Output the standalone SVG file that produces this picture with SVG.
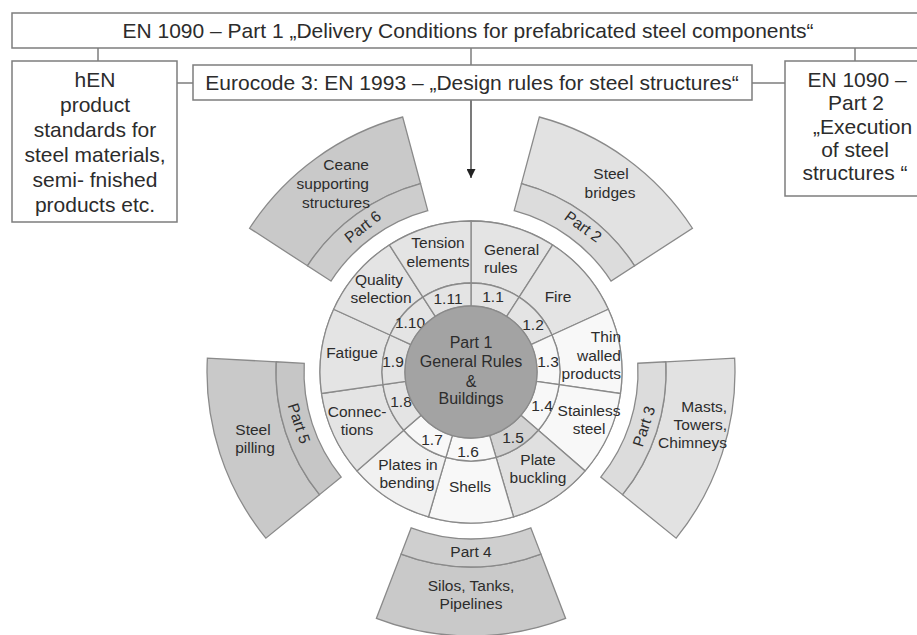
<svg xmlns="http://www.w3.org/2000/svg" width="917" height="635" viewBox="0 0 917 635">
<style>
.box{fill:#fff;stroke:#7d7d7d;stroke-width:1.5}
.ln{fill:none;stroke:#7d7d7d;stroke-width:1.5}
.t{font-family:"Liberation Sans",Arial,sans-serif;fill:#2c2c2c}
.big{font-size:21px}
.sm{font-size:15.5px}
.c{text-anchor:middle}
.e{text-anchor:end}
.seg{stroke:#8a8a8a;stroke-width:1.3}
.g1{fill:#e4e4e4}
.w1{fill:#f8f8f8}
.g2{fill:#e0e0e0}
.d2{fill:#d2d2d2}
.pd{fill:#c9c9c9;stroke:#8a8a8a;stroke-width:1.3}
.pl{fill:#e2e2e2;stroke:#8a8a8a;stroke-width:1.3}
</style>
<defs>
<marker id="ah" viewBox="0 0 10 10" refX="10" refY="5" markerWidth="9" markerHeight="9" markerUnits="userSpaceOnUse" orient="auto">
<path d="M0,0 L10,5 L0,10 Z" fill="#222"/>
</marker>
</defs>

<g id="connectors">
<line class="ln" x1="98" y1="48" x2="98" y2="61"/>
<line class="ln" x1="471" y1="48" x2="471" y2="65"/>
<line class="ln" x1="855" y1="48" x2="855" y2="61"/>
<line class="ln" x1="177" y1="83" x2="193" y2="83"/>
<line class="ln" x1="752" y1="83" x2="785" y2="83"/>
<line x1="471" y1="100" x2="471" y2="178" stroke="#333" stroke-width="1.3" marker-end="url(#ah)"/>
</g>

<g id="banner">
<rect class="box" x="12" y="13" width="925" height="35"/>
<text class="t big c" x="468" y="38">EN 1090 – Part 1 „Delivery Conditions for prefabricated steel components“</text>
</g>

<g id="hen">
<rect class="box" x="12" y="61" width="165" height="161"/>
<text class="t big c" x="95"><tspan x="95" y="87">hEN</tspan><tspan x="95" y="112">product</tspan><tspan x="95" y="137">standards for</tspan><tspan x="95" y="162">steel materials,</tspan><tspan x="95" y="187">semi- fnished</tspan><tspan x="95" y="212">products etc.</tspan></text>
</g>

<g id="eurocode">
<rect class="box" x="193" y="65" width="559" height="35"/>
<text class="t big c" x="472" y="90">Eurocode 3: EN 1993 – „Design rules for steel structures“</text>
</g>

<g id="en1090-2">
<rect class="box" x="785" y="61" width="150" height="135"/>
<text class="t big"><tspan class="c" x="857" y="87">EN 1090 –</tspan><tspan class="c" x="856" y="110">Part 2</tspan><tspan x="813" y="134">„Execution</tspan><tspan class="c" x="855" y="157">of steel</tspan><tspan class="c" x="855" y="180">structures “</tspan></text>
</g>

<g id="part2">
<path class="pl" d="M521.47,183.65 L539.32,117 A264,264 0 0 1 692.42,228.23 L634.55,265.8 A195,195 0 0 0 521.47,183.65Z"/>
<path class="pl" style="fill:#dcdcdc" d="M514.22,210.69 L521.47,183.65 A195,195 0 0 1 634.55,265.8 L611.06,281.05 A167,167 0 0 0 514.22,210.69Z"/>
<text class="t sm c"><tspan x="611" y="179">Steel</tspan><tspan x="610" y="198">bridges</tspan></text>
<text class="t sm c" transform="translate(580,231) rotate(36)">Part 2</text>
</g>

<g id="part3">
<path class="pl" d="M665.73,361.8 L734.63,358.19 A264,264 0 0 1 676.15,538.14 L622.53,494.71 A195,195 0 0 0 665.73,361.8Z"/>
<path class="pl" style="fill:#dcdcdc" d="M637.77,363.27 L665.73,361.8 A195,195 0 0 1 622.53,494.71 L600.78,477.09 A167,167 0 0 0 637.77,363.27Z"/>
<text class="t sm e"><tspan x="727" y="412">Masts,</tspan><tspan x="727" y="430">Towers,</tspan><tspan x="727" y="448">Chimneys</tspan></text>
<text class="t sm c" transform="translate(649,428) rotate(-72)">Part 3</text>
</g>

<g id="part4">
<path class="pd" d="M540.89,554.05 L565.62,618.47 A264,264 0 0 1 376.38,618.47 L401.11,554.05 A195,195 0 0 0 540.89,554.05Z"/>
<path class="pd" style="fill:#cfcfcf" d="M530.85,527.91 L540.89,554.05 A195,195 0 0 1 401.11,554.05 L411.15,527.91 A167,167 0 0 0 530.85,527.91Z"/>
<text class="t sm c" x="471" y="557">Part 4</text>
<text class="t sm c"><tspan x="471" y="591">Silos, Tanks,</tspan><tspan x="471" y="609">Pipelines</tspan></text>
</g>

<g id="part5">
<path class="pd" d="M319.47,494.71 L265.85,538.14 A264,264 0 0 1 207.37,358.19 L276.27,361.8 A195,195 0 0 0 319.47,494.71Z"/>
<path class="pd" style="fill:#c6c6c6" d="M341.22,477.09 L319.47,494.71 A195,195 0 0 1 276.27,361.8 L304.23,363.27 A167,167 0 0 0 341.22,477.09Z"/>
<text class="t sm c"><tspan x="253" y="435">Steel</tspan><tspan x="255" y="453">pilling</tspan></text>
<text class="t sm c" transform="translate(294,425) rotate(72)">Part 5</text>
</g>

<g id="part6">
<path class="pd" d="M307.45,265.8 L249.58,228.23 A264,264 0 0 1 402.68,117 L420.53,183.65 A195,195 0 0 0 307.45,265.8Z"/>
<path class="pd" style="fill:#cdcdcd" d="M330.94,281.05 L307.45,265.8 A195,195 0 0 1 420.53,183.65 L427.78,210.69 A167,167 0 0 0 330.94,281.05Z"/>
<text class="t sm e"><tspan x="369" y="170">Ceane</tspan><tspan x="369" y="189">supporting</tspan><tspan x="370" y="208">structures</tspan></text>
<text class="t sm c" transform="translate(366,231) rotate(-38)">Part 6</text>
</g>

<g id="part1">
<circle cx="471" cy="372" r="151" fill="#f4f4f4" class="seg"/>
<g id="seg-1-1">
<path class="seg g1" d="M471,283 L471,221 A151,151 0 0 1 552.63,244.96 L519.11,297.12 A89,89 0 0 0 471,283Z"/>
<path class="seg g1" d="M471,306 L471,283 A89,89 0 0 1 519.11,297.12 L506.68,316.47 A66,66 0 0 0 471,306Z"/>
<text class="t sm"><tspan x="484" y="255">General</tspan><tspan x="484" y="273">rules</tspan></text>
<text class="t sm c" x="493" y="302">1.1</text>
</g>
<g id="seg-1-2">
<path class="seg g1" d="M519.11,297.12 L552.63,244.96 A151,151 0 0 1 608.35,309.27 L551.95,335.03 A89,89 0 0 0 519.11,297.12Z"/>
<path class="seg g1" d="M506.68,316.47 L519.11,297.12 A89,89 0 0 1 551.95,335.03 L531.03,344.58 A66,66 0 0 0 506.68,316.47Z"/>
<text class="t sm c" x="558" y="302">Fire</text>
<text class="t sm c" x="533" y="330">1.2</text>
</g>
<g id="seg-1-3">
<path class="seg w1" d="M551.95,335.03 L608.35,309.27 A151,151 0 0 1 620.46,393.49 L559.09,384.66 A89,89 0 0 0 551.95,335.03Z"/>
<path class="seg w1" d="M531.03,344.58 L551.95,335.03 A89,89 0 0 1 559.09,384.66 L536.33,381.39 A66,66 0 0 0 531.03,344.58Z"/>
<text class="t sm e"><tspan x="621" y="342">Thin</tspan><tspan x="621" y="361">walled</tspan><tspan x="621" y="379">products</tspan></text>
<text class="t sm c" x="548" y="367">1.3</text>
</g>
<g id="seg-1-4">
<path class="seg w1" d="M559.09,384.66 L620.46,393.49 A151,151 0 0 1 585.11,470.89 L538.26,430.29 A89,89 0 0 0 559.09,384.66Z"/>
<path class="seg w1" d="M536.33,381.39 L559.09,384.66 A89,89 0 0 1 538.26,430.29 L520.88,415.22 A66,66 0 0 0 536.33,381.39Z"/>
<text class="t sm c"><tspan x="589" y="416">Stainless</tspan><tspan x="589" y="434">steel</tspan></text>
<text class="t sm c" x="542" y="411">1.4</text>
</g>
<g id="seg-1-5">
<path class="seg g2" d="M538.26,430.29 L585.11,470.89 A151,151 0 0 1 513.54,516.88 L496.07,457.4 A89,89 0 0 0 538.26,430.29Z"/>
<path class="seg d2" d="M520.88,415.22 L538.26,430.29 A89,89 0 0 1 496.07,457.4 L489.59,435.33 A66,66 0 0 0 520.88,415.22Z"/>
<text class="t sm c"><tspan x="538" y="465">Plate</tspan><tspan x="538" y="483">buckling</tspan></text>
<text class="t sm c" x="513" y="443">1.5</text>
</g>
<g id="seg-1-6">
<path class="seg w1" d="M496.07,457.4 L513.54,516.88 A151,151 0 0 1 428.46,516.88 L445.93,457.4 A89,89 0 0 0 496.07,457.4Z"/>
<path class="seg w1" d="M489.59,435.33 L496.07,457.4 A89,89 0 0 1 445.93,457.4 L452.41,435.33 A66,66 0 0 0 489.59,435.33Z"/>
<text class="t sm c" x="470" y="492">Shells</text>
<text class="t sm c" x="468" y="457">1.6</text>
</g>
<g id="seg-1-7">
<path class="seg" fill="#f1f1f1" d="M445.93,457.4 L428.46,516.88 A151,151 0 0 1 356.89,470.89 L403.74,430.29 A89,89 0 0 0 445.93,457.4Z"/>
<path class="seg w1" d="M452.41,435.33 L445.93,457.4 A89,89 0 0 1 403.74,430.29 L421.12,415.22 A66,66 0 0 0 452.41,435.33Z"/>
<text class="t sm c"><tspan x="408" y="470">Plates in</tspan><tspan x="407" y="488">bending</tspan></text>
<text class="t sm c" x="432" y="445">1.7</text>
</g>
<g id="seg-1-8">
<path class="seg g1" d="M403.74,430.29 L356.89,470.89 A151,151 0 0 1 321.54,393.49 L382.91,384.66 A89,89 0 0 0 403.74,430.29Z"/>
<path class="seg g1" d="M421.12,415.22 L403.74,430.29 A89,89 0 0 1 382.91,384.66 L405.67,381.39 A66,66 0 0 0 421.12,415.22Z"/>
<text class="t sm c"><tspan x="357" y="417">Connec-</tspan><tspan x="357" y="435">tions</tspan></text>
<text class="t sm c" x="401" y="407">1.8</text>
</g>
<g id="seg-1-9">
<path class="seg g1" d="M382.91,384.66 L321.54,393.49 A151,151 0 0 1 333.65,309.27 L390.05,335.03 A89,89 0 0 0 382.91,384.66Z"/>
<path class="seg g1" d="M405.67,381.39 L382.91,384.66 A89,89 0 0 1 390.05,335.03 L410.97,344.58 A66,66 0 0 0 405.67,381.39Z"/>
<text class="t sm c" x="352" y="358">Fatigue</text>
<text class="t sm c" x="393" y="367">1.9</text>
</g>
<g id="seg-1-10">
<path class="seg g1" d="M390.05,335.03 L333.65,309.27 A151,151 0 0 1 389.37,244.96 L422.89,297.12 A89,89 0 0 0 390.05,335.03Z"/>
<path class="seg g1" d="M410.97,344.58 L390.05,335.03 A89,89 0 0 1 422.89,297.12 L435.32,316.47 A66,66 0 0 0 410.97,344.58Z"/>
<text class="t sm c"><tspan x="379" y="285">Quality</tspan><tspan x="381" y="303">selection</tspan></text>
<text class="t sm c" x="410" y="328">1.10</text>
</g>
<g id="seg-1-11">
<path class="seg g1" d="M422.89,297.12 L389.37,244.96 A151,151 0 0 1 471,221 L471,283 A89,89 0 0 0 422.89,297.12Z"/>
<path class="seg g1" d="M435.32,316.47 L422.89,297.12 A89,89 0 0 1 471,283 L471,306 A66,66 0 0 0 435.32,316.47Z"/>
<text class="t sm c"><tspan x="438" y="248">Tension</tspan><tspan x="438" y="267">elements</tspan></text>
<text class="t sm c" x="448" y="304">1.11</text>
</g>
<g id="part1-core">
<circle cx="471" cy="372" r="66" fill="#a3a3a3" class="seg"/>
<text class="t c" style="font-size:16px"><tspan x="471" y="348">Part 1</tspan><tspan x="471" y="367">General Rules</tspan><tspan x="471" y="387">&amp;</tspan><tspan x="471" y="404">Buildings</tspan></text>
</g>
</g>
</svg>
